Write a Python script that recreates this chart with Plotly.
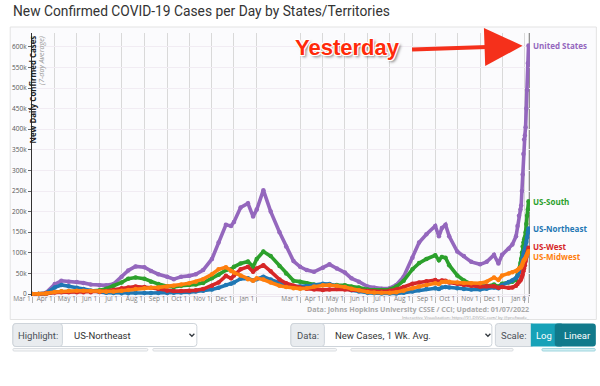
import plotly.graph_objects as go

# ---------------- data (thousands of cases, 7-day average) ----------------
dates = [
    "2020-03-01", "2020-03-10", "2020-03-20", "2020-04-01", "2020-04-10", "2020-04-20",
    "2020-05-01", "2020-05-10", "2020-05-20", "2020-06-01", "2020-06-10", "2020-06-20",
    "2020-07-01", "2020-07-10", "2020-07-20", "2020-08-01", "2020-08-10", "2020-08-20",
    "2020-09-01", "2020-09-10", "2020-09-20", "2020-10-01", "2020-10-10", "2020-10-20",
    "2020-11-01", "2020-11-10", "2020-11-20", "2020-11-27", "2020-12-01", "2020-12-10",
    "2020-12-20", "2020-12-27",
    "2021-01-01", "2021-01-10", "2021-01-20", "2021-02-01", "2021-02-10", "2021-02-20",
    "2021-03-01", "2021-03-10", "2021-03-20", "2021-04-01", "2021-04-10", "2021-04-20",
    "2021-05-01", "2021-05-10", "2021-05-20", "2021-06-01", "2021-06-10", "2021-06-20",
    "2021-07-01", "2021-07-10", "2021-07-20", "2021-08-01", "2021-08-10", "2021-08-20",
    "2021-09-01", "2021-09-06", "2021-09-10", "2021-09-15", "2021-09-20",
    "2021-10-01", "2021-10-10", "2021-10-20",
    "2021-11-01", "2021-11-10", "2021-11-20", "2021-11-26",
    "2021-12-01", "2021-12-10", "2021-12-15", "2021-12-20", "2021-12-22", "2021-12-24",
    "2021-12-26", "2021-12-27", "2021-12-28", "2021-12-29", "2021-12-30", "2021-12-31",
    "2022-01-01", "2022-01-02", "2022-01-03", "2022-01-04", "2022-01-05", "2022-01-06",
]

us = [
    0, 0.1, 3, 24, 32, 30, 29, 27, 23, 21, 21, 24, 42, 57, 67, 65, 56, 48,
    42, 36, 42, 44, 48, 58, 85, 125, 168, 165, 175, 210, 220, 188,
    205, 252, 200, 150, 115, 80, 66, 58, 54, 64, 72, 62, 52, 38, 30, 18, 15, 13,
    14, 22, 42, 88, 125, 145, 165, 140, 160, 168, 140, 103, 92, 78,
    72, 78, 95, 74, 95, 110, 120, 140, 165, 190, 205, 215, 250, 290, 340, 375,
    385, 405, 450, 495, 560, 603,
]
south = [
    0, 0, 0.5, 5, 6, 6, 6, 6, 7, 9, 13, 20, 28, 37, 40, 37, 30, 24,
    19, 17, 20, 22, 23, 27, 38, 47, 58, 60, 66, 74, 79, 66,
    85, 103, 92, 68, 50, 32, 30, 26, 23, 22, 22, 22, 21, 18, 16, 11, 10, 10,
    11, 18, 32, 60, 75, 85, 94, 82, 90, 88, 70, 45, 33, 24,
    19, 19, 23, 18, 25, 28, 30, 34, 45, 60, 75, 85, 100, 115, 125, 132,
    138, 150, 170, 190, 205, 225,
]
northeast = [
    0, 0.1, 2, 16, 22, 19, 15, 12, 8, 5, 3, 2.5, 2, 2, 2.5, 2.5, 2.5, 2.5,
    2.5, 3, 3.5, 4.5, 6, 8, 11, 15, 22, 25, 28, 37, 38, 33,
    36, 42, 35, 27, 22, 18, 18, 19, 22, 25, 24, 20, 14, 9, 6, 3, 2, 1.2,
    1.2, 1.5, 3, 6, 9, 12, 14, 12, 16, 17, 16, 14, 12, 11,
    11, 13, 16, 14, 22, 29, 33, 39, 43, 52, 62, 68, 78, 88, 97, 104,
    108, 115, 126, 138, 149, 159,
]
west = [
    0, 0.1, 1, 3.5, 4, 4, 4, 4, 4.5, 5, 7, 10, 14, 16, 18, 17, 15, 12,
    8, 7, 7, 8, 9, 12, 20, 28, 44, 38, 45, 60, 66, 54,
    62, 70, 55, 35, 26, 20, 16, 13, 11, 10, 11, 12, 11, 10, 9, 7, 6, 6,
    8, 11, 17, 25, 28, 31, 34, 30, 33, 32, 28, 25, 22, 20,
    18, 19, 19, 15, 17, 15, 16, 20, 24, 29, 33, 37, 42, 47, 55, 62,
    70, 80, 90, 98, 105, 112,
]
midwest = [
    0, 0.1, 1.5, 5, 6.5, 7, 8, 8, 7.5, 6, 5.5, 6, 8, 10, 12, 14, 15, 16,
    18, 20, 23, 26, 30, 36, 48, 60, 65, 56, 52, 45, 36, 32,
    38, 35, 28, 20, 17, 14, 13, 14, 18, 21, 22, 20, 17, 13, 9, 5, 3.5, 3,
    3, 4.5, 8, 14, 18, 22, 26, 24, 29, 30, 30, 28, 27, 26,
    26, 30, 40, 34, 45, 50, 53, 55, 58, 62, 64, 66, 70, 75, 80, 83,
    85, 88, 92, 96, 100, 104,
]

series_names = ["United States", "US-South", "US-Northeast", "US-West", "US-Midwest"]
series_values = [us, south, northeast, west, midwest]
series_colors = ["#9467bd", "#2ca02c", "#1f77b4", "#d62728", "#ff7f0e"]
label_yshift = [0, 0, 0, 1, -5]

y_tick_vals = [0, 50000, 100000, 150000, 200000, 250000, 300000,
               350000, 400000, 450000, 500000, 550000, 600000]
y_tick_text = ["0", "50k", "100k", "150k", "200k", "250k", "300k",
               "350k", "400k", "450k", "500k", "550k", "600k"]

x_tick_vals = ["2020-03-01", "2020-04-01", "2020-05-01", "2020-06-01", "2020-07-01",
               "2020-08-01", "2020-09-01", "2020-10-01", "2020-11-01", "2020-12-01",
               "2021-01-01", "2021-03-01", "2021-04-01", "2021-05-01", "2021-06-01",
               "2021-07-01", "2021-08-01", "2021-09-01", "2021-10-01", "2021-11-01",
               "2021-12-01", "2022-01-01", "2022-01-06"]
x_tick_text = ["Mar 1", "Apr 1", "May 1", "Jun 1", "Jul 1", "Aug 1", "Sep 1", "Oct 1",
               "Nov 1", "Dec 1", "Jan 1", "Mar 1", "Apr 1", "May 1", "Jun 1", "Jul 1",
               "Aug 1", "Sep 1", "Oct 1", "Nov 1", "Dec 1", "", "Jan 6"]

# ---------------- layout helpers (pixel -> paper) ----------------
L, R, T, B = 27, 530, 33, 296
W, H = 600, 386


def px(x):
    return (x - L) / (R - L)


def py(y):
    return (B - y) / (B - T)


def rrect(x0, y0, x1, y1, r=3):
    return (f"M{px(x0 + r)},{py(y0)} L{px(x1 - r)},{py(y0)} "
            f"Q{px(x1)},{py(y0)} {px(x1)},{py(y0 + r)} L{px(x1)},{py(y1 - r)} "
            f"Q{px(x1)},{py(y1)} {px(x1 - r)},{py(y1)} L{px(x0 + r)},{py(y1)} "
            f"Q{px(x0)},{py(y1)} {px(x0)},{py(y1 - r)} L{px(x0)},{py(y0 + r)} "
            f"Q{px(x0)},{py(y0)} {px(x0 + r)},{py(y0)} Z")


fig = go.Figure()

for name, vals, col in zip(series_names, series_values, series_colors):
    fig.add_trace(go.Scatter(
        x=dates, y=[v * 1000 for v in vals], name=name,
        mode="lines+markers",
        line=dict(color=col, width=3.6),
        marker=dict(size=4.5, color=col),
        hoverinfo="skip", showlegend=False,
    ))

shapes = []
annotations = []

# chart panel frame
shapes.append(dict(type="rect", xref="paper", yref="paper",
                   x0=px(5), x1=px(597), y0=py(27), y1=py(319.5),
                   line=dict(color="#e3e3e3", width=1), fillcolor="#fbfbfd",
                   layer="below"))
# "today" line
shapes.append(dict(type="line", xref="x", yref="paper", x0="2022-01-07", x1="2022-01-07",
                   y0=0, y1=1, line=dict(color="#8f8f8f", width=1.5), layer="below"))


def input_group(x0, xa, x1, y0=323.5, y1=346.5):
    shapes.append(dict(type="path", xref="paper", yref="paper", path=rrect(x0, y0, x1, y1),
                       fillcolor="#ffffff", line=dict(color="#ced4da", width=1)))
    shapes.append(dict(type="path", xref="paper", yref="paper", path=rrect(x0, y0, xa, y1),
                       fillcolor="#e9ecef", line=dict(color="#ced4da", width=1)))


def chevron(cx, cy=335):
    shapes.append(dict(type="path", xref="paper", yref="paper",
                       path=f"M{px(cx - 2.5)},{py(cy - 1.2)} L{px(cx)},{py(cy + 1.3)} L{px(cx + 2.5)},{py(cy - 1.2)}",
                       line=dict(color="#343a40", width=1.3)))


input_group(7.7, 57.7, 193.5)
chevron(188.5)
input_group(288.5, 322.3, 491.5)
chevron(487.5)
# scale group
shapes.append(dict(type="path", xref="paper", yref="paper", path=rrect(495, 323.5, 534, 346.5),
                   fillcolor="#e9ecef", line=dict(color="#ced4da", width=1)))
shapes.append(dict(type="rect", xref="paper", yref="paper", x0=px(530.8), x1=px(558.5),
                   y0=py(323.5), y1=py(346.5), fillcolor="#17a2b8", line=dict(width=0)))
shapes.append(dict(type="path", xref="paper", yref="paper", path=rrect(555, 323.5, 596.5, 346.5),
                   fillcolor="#117a8b", line=dict(width=0)))
shapes.append(dict(type="rect", xref="paper", yref="paper", x0=px(558.5), x1=px(562),
                   y0=py(323.5), y1=py(346.5), fillcolor="#117a8b", line=dict(width=0)))
# top edges of the next (cut-off) control row
for (a, b, col) in [(7.7, 144, "#dadde1"), (149, 334.6, "#dadde1"), (349, 513, "#dadde1"),
                    (542, 596, "#9fd6df")]:
    shapes.append(dict(type="path", xref="paper", yref="paper", path=rrect(a, 348.5, b, 351, 1.2),
                       fillcolor="#f6f7f8" if col != "#9fd6df" else "#d2eef2",
                       line=dict(color=col, width=1)))

ctrl_font = dict(family="Roboto", size=9.5, color="#495057")
for text, x in [("Highlight:", 32.7), ("Data:", 305.4), ("Scale:", 513)]:
    annotations.append(dict(text=text, x=px(x), y=py(335), xref="paper", yref="paper",
                            xanchor="center", yanchor="middle", showarrow=False, font=ctrl_font))
for text, x in [("US-Northeast", 67), ("New Cases, 1 Wk. Avg.", 331.5)]:
    annotations.append(dict(text=text, x=px(x), y=py(335), xref="paper", yref="paper",
                            xanchor="left", yanchor="middle", showarrow=False,
                            font=dict(family="Roboto", size=9.5, color="#333333")))
for text, x in [("Log", 544.6), ("Linear", 577.5)]:
    annotations.append(dict(text=text, x=px(x), y=py(335), xref="paper", yref="paper",
                            xanchor="center", yanchor="middle", showarrow=False,
                            font=dict(family="Roboto", size=9.5, color="#ffffff")))

# title
annotations.append(dict(text="New Confirmed COVID-19 Cases per Day by States/Territories",
                        x=px(6), y=py(11), xref="paper", yref="paper", xanchor="left",
                        yanchor="middle", showarrow=False,
                        font=dict(family="Roboto", size=13.8, color="#333333")))
# y-axis titles inside plot
annotations.append(dict(text="<b>New Daily Confirmed Cases</b>", textangle=-90,
                        x=px(28), y=py(33.5), xref="paper", yref="paper",
                        xanchor="center", yanchor="top", showarrow=False,
                        font=dict(family="Open Sans", size=7.9, color="#222222")))
annotations.append(dict(text="<i>(7-day Average)</i>", textangle=-90,
                        x=px(36), y=py(33.5), xref="paper", yref="paper",
                        xanchor="center", yanchor="top", showarrow=False,
                        font=dict(family="Open Sans", size=7.2, color="#9a9a9a")))
# source
annotations.append(dict(text="<b>Data: Johns Hopkins University CSSE / CCI; Updated: 01/07/2022</b>",
                        x=px(531), y=py(309), xref="paper", yref="paper", xanchor="right",
                        yanchor="middle", showarrow=False,
                        font=dict(family="Open Sans", size=7.1, color="#a9a9a9")))
annotations.append(dict(text="Interactive Visualization: https://91-DIVOC.com/ by @profwade_",
                        x=px(531), y=py(316.8), xref="paper", yref="paper", xanchor="right",
                        yanchor="middle", showarrow=False,
                        font=dict(family="Open Sans", size=4.3, color="#a0a0a0")))

# end-of-line labels
for name, vals, col, ys in zip(series_names, series_values, series_colors, label_yshift):
    annotations.append(dict(text=f"<b>{name}</b>", x=dates[-1], y=vals[-1] * 1000,
                            xref="x", yref="y", xanchor="left", yanchor="middle",
                            xshift=2.5, yshift=ys, showarrow=False,
                            font=dict(family="Open Sans", size=8.0, color=col)))

# "Yesterday" callout
annotations.append(dict(text="<b>Yesterday</b>", x=px(346), y=py(47.5), xref="paper", yref="paper",
                        xanchor="center", yanchor="middle", showarrow=False,
                        font=dict(family="Liberation Sans", size=22, color="#ff2a0a",
                                  shadow="1px 1px 0 #fff, -1px -1px 0 #fff, 1px -1px 0 #fff, -1px 1px 0 #fff, 2px 2px 3px rgba(0,0,0,0.55)")))
annotations.append(dict(text="", x=dates[-1], y=us[-1] * 1000, xref="x", yref="y",
                        showarrow=True, ax=-118, ay=4, arrowcolor="#f5301b",
                        arrowwidth=4, arrowhead=2, arrowsize=1.9, standoff=6))

fig.update_layout(
    width=W, height=H,
    margin=dict(l=L, r=W - R, t=T, b=H - B, pad=0),
    paper_bgcolor="#ffffff", plot_bgcolor="rgba(0,0,0,0)",
    font=dict(family="Open Sans"),
    shapes=shapes, annotations=annotations,
    xaxis=dict(type="date", range=["2020-03-01", "2022-01-08"],
               tickvals=x_tick_vals, ticktext=x_tick_text,
               showgrid=True, gridcolor="#d9d9d9", gridwidth=1.2,
               ticks="outside", ticklen=6, tickcolor="#b5b5b5", tickwidth=1,
               tickfont=dict(family="Open Sans", size=6.5, color="#7d7d7d"),
               ticklabelshift=-10, ticklabelstandoff=-10, ticklabeloverflow="allow",
               tickangle=0,
               showline=True, linecolor="#ebe5ee", linewidth=1, zeroline=False,
               fixedrange=True),
    yaxis=dict(range=[-4850, 633500], tickvals=y_tick_vals, ticktext=y_tick_text,
               showgrid=True, gridcolor="#f1ecf3", gridwidth=1,
               ticks="outside", ticklen=3, tickcolor="#666666",
               tickfont=dict(family="Open Sans", size=6.5, color="#555555"),
               showline=True, linecolor="#333333", linewidth=1, zeroline=False,
               fixedrange=True),
)

fig.write_html("out.html", config={"displayModeBar": False},
               post_script="document.body.style.margin='0';")
